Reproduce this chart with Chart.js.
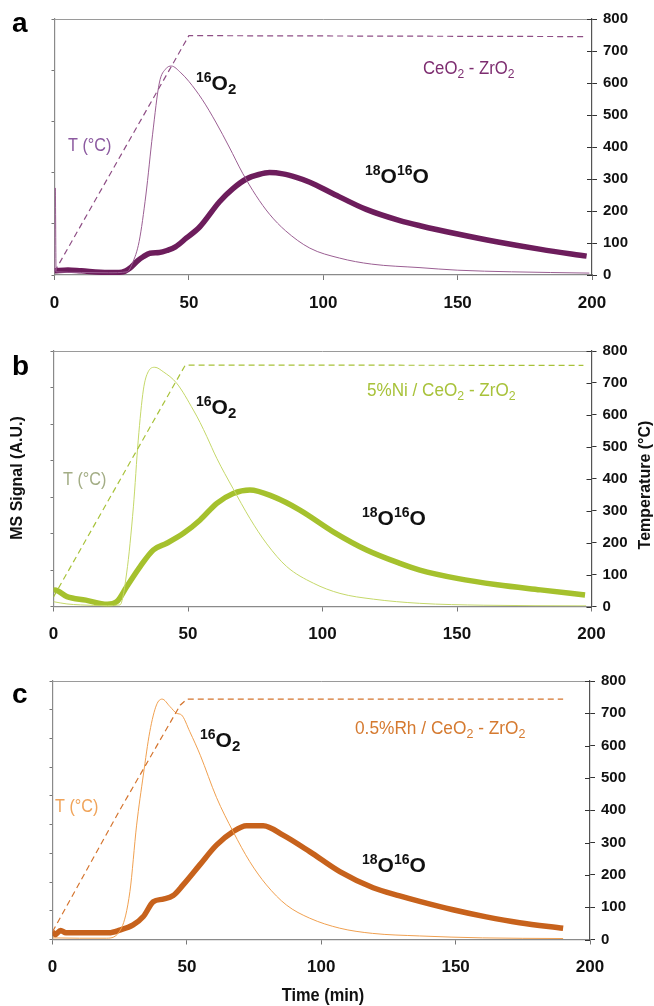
<!DOCTYPE html>
<html>
<head>
<meta charset="utf-8">
<script src="https://cdn.jsdelivr.net/npm/chart.js@4"></script>
<style>
  body { margin:0; background:#fff; }
  #wrap { position:relative; width:654px; height:1006px; }
  canvas { position:absolute; left:0; }
</style>
</head>
<body>
<div id="wrap">
  <canvas id="chartA" width="654" height="325" style="top:0px"></canvas>
  <canvas id="chartB" width="654" height="330" style="top:325px"></canvas>
  <canvas id="chartC" width="654" height="351" style="top:655px"></canvas>
</div>
<script>
// ---- data (time in min, signal in temperature-axis units) ----
// panel a : CeO2 - ZrO2
var aTempTime = [0, 50, 198];
var aTemp     = [10, 748, 745];
var a16Time = [0, 0.3, 0.6, 10, 20, 27, 29, 31.5, 34, 36.5, 39, 41.5, 43.5, 47, 50, 55, 60, 65, 70, 75, 80, 86, 95, 106, 118, 136, 150, 170, 199];
var a16     = [10, 272, 10, 8, 7, 10, 37, 105, 250, 440, 600, 645, 653, 632, 605, 548, 478, 400, 318, 248, 190, 138, 84, 53, 34, 23, 15, 10, 6];
var aMixTime = [0, 5, 10, 20, 25, 28, 31, 33, 35.5, 39, 42, 45, 49, 54, 61.4, 66.4, 71.4, 76, 80, 85, 90, 95, 103.5, 116, 128.5, 136, 150, 165, 181, 198];
var aMix     = [13, 16, 13, 8, 9, 21, 45, 57, 68, 70, 77, 88, 115, 150, 229, 270, 300, 314, 320, 316, 305, 290, 255, 205, 170, 154, 128, 103, 80, 59];

// panel b : 5%Ni / CeO2 - ZrO2
var bTempTime = [0, 49, 197];
var bTemp     = [30, 756, 755];
var b16Time = [0, 5, 10, 20, 24.7, 27.2, 29.7, 31.5, 33.4, 35.2, 37.7, 40.8, 45.8, 52, 54.5, 57, 60.7, 66.7, 73, 79.3, 86.7, 96.6, 106.5, 118.9, 136, 160, 198];
var b16     = [15, 8, 5, 3, 5, 105, 312, 521, 678, 735, 749, 735, 699, 615, 576, 532, 464, 370, 276, 196, 125, 73, 41, 23, 10, 4, 2];
var bMixTime = [0, 0.5, 5, 12, 20, 23.5, 27.2, 32.2, 37.1, 42.1, 48.3, 54.5, 60.7, 66.8, 73, 81.7, 91.6, 104, 116.4, 128.8, 136.2, 150, 165, 181, 197.6];
var bMix     = [45, 52, 31, 20, 7, 15, 62, 125, 177, 198, 229, 271, 323, 354, 365, 344, 302, 234, 177, 135, 114, 88, 68, 52, 36];

// panel c : 0.5%Rh / CeO2 - ZrO2
var cTempTime = [0, 25, 47.5, 50, 190];
var cTemp     = [24, 400, 725, 744, 744];
var c16Time = [0, 10, 20, 25.7, 28.8, 31.3, 33.8, 36.2, 38.7, 40.8, 43.7, 46.2, 48, 51.1, 55, 61, 67.2, 73.4, 79.6, 87, 95.7, 106.9, 119, 136.6, 160, 190];
var c16     = [5, 4, 4, 36, 148, 354, 509, 643, 726, 744, 721, 700, 695, 643, 570, 440, 334, 241, 169, 107, 66, 35, 19, 11, 5, 3];
var cMixTime = [0, 1, 3, 5, 21, 25, 30, 33.8, 37.5, 41.2, 44.9, 48.6, 54.8, 61, 67.2, 72.2, 78.4, 85.8, 95.7, 106.9, 119.3, 129.2, 136.6, 149, 161.4, 173.8, 190];
var cMix     = [24, 15, 28, 21, 21, 29, 45, 71, 117, 125, 136, 169, 231, 292, 334, 352, 352, 323, 272, 210, 160, 135, 118, 92, 70, 52, 35];

var timeTicks = [0, 50, 100, 150, 200];
var tempTicks = [0, 100, 200, 300, 400, 500, 600, 700, 800];

var NARROW = "'Liberation Sans Narrow','Arial Narrow','Liberation Sans',Arial,sans-serif";
var ARIAL = "'Liberation Sans',Arial,sans-serif";

function pts(xs, ys){
    var out = [];
    for(var i=0;i<xs.length;i++){
        out.push({x:xs[i], y:ys[i]});
    }
    return out;
}

// draw "^16O_2" style text: ^ = superscript digits, _ = subscript digits
function richText(ctx, str, x, y, size, weight, family, color, align, sx){
    var parts = [];
    var re = /(\^[0-9]+|_[0-9]+|[^\^_]+)/g, m;
    while((m = re.exec(str)) !== null){
        var t = m[0];
        if(t[0]=='^') parts.push({t:t.slice(1), s:Math.round(size*0.66), dy:-size*0.36});
        else if(t[0]=='_') parts.push({t:t.slice(1), s:Math.round(size*0.7), dy:size*0.2});
        else parts.push({t:t, s:size, dy:0});
    }
    sx = sx || 1;
    ctx.fillStyle = color;
    ctx.textBaseline = 'alphabetic';
    ctx.textAlign = 'left';
    var total = 0;
    parts.forEach(function(p){
        ctx.font = weight+' '+p.s+'px '+family;
        p.w = ctx.measureText(p.t).width;
        total += p.w;
    });
    ctx.save();
    ctx.translate(x, y);
    ctx.scale(sx, 1);
    var cx = 0;
    if(align=='center') cx = -total/2;
    parts.forEach(function(p){
        ctx.font = weight+' '+p.s+'px '+family;
        ctx.fillText(p.t, cx, p.dy);
        cx += p.w;
    });
    ctx.restore();
}

var decor = {
    id:'decor',
    afterDraw: function(chart, args, opts){
        var ctx = chart.ctx, ca = chart.chartArea;
        ctx.save();
        // top frame line
        ctx.strokeStyle = '#9a9a9a';
        ctx.lineWidth = 1;
        ctx.beginPath();
        ctx.moveTo(ca.left, ca.top + 0.5);
        ctx.lineTo(ca.right, ca.top + 0.5);
        ctx.stroke();
        // inner part of right axis ticks
        var y2 = chart.scales.y2;
        ctx.strokeStyle = '#333';
        ctx.beginPath();
        y2.ticks.forEach(function(t){
            var py = Math.round(y2.getPixelForValue(t.value)) + 0.5;
            ctx.moveTo(ca.right - 5, py);
            ctx.lineTo(ca.right, py);
        });
        ctx.stroke();
        (opts.texts || []).forEach(function(tx){
            var y = tx.y - opts.offset;
            if(tx.rot){
                ctx.save();
                ctx.translate(tx.x, y);
                ctx.rotate(tx.rot);
                richText(ctx, tx.s, 0, 0, tx.size, tx.weight || 'normal', tx.family || NARROW, tx.color, 'center', tx.sx);
                ctx.restore();
            } else {
                richText(ctx, tx.s, tx.x, y, tx.size, tx.weight || 'normal', tx.family || NARROW, tx.color, tx.align, tx.sx);
            }
        });
        ctx.restore();
    }
};

function makePanel(canvasId, cfg){
    var datasets = [
        {data:pts(cfg.tempTime, cfg.temp), yAxisID:'y2', borderColor:cfg.dash, borderWidth:1.2, borderDash:[6,4], pointRadius:0, tension:0},
        {data:pts(cfg.o16Time, cfg.o16), yAxisID:'y', borderColor:cfg.thin, borderWidth:1, pointRadius:0, cubicInterpolationMode:'monotone'},
        {data:pts(cfg.mixTime, cfg.mix), yAxisID:'y', borderColor:cfg.thick, borderWidth:5.5, pointRadius:0, cubicInterpolationMode:'monotone'}
    ];
    return new Chart(document.getElementById(canvasId), {
        type:'line',
        data:{datasets:datasets},
        options:{
            responsive:false,
            animation:false,
            devicePixelRatio:1,
            layout:{padding:{top:cfg.chartTop - cfg.canvasTop, left:0, right:0, bottom:0}},
            plugins:{
                legend:{display:false},
                tooltip:{enabled:false},
                decor:{texts:cfg.texts, offset:cfg.canvasTop}
            },
            scales:{
                x:{
                    type:'linear', min:0, max:200,
                    afterBuildTicks:function(s){ s.ticks = timeTicks.map(function(v){return {value:v};}); },
                    afterFit:function(s){ s.height = cfg.canvasTop + cfg.canvasH - cfg.bottom; },
                    grid:{drawOnChartArea:false, tickLength:5, color:'#777'},
                    border:{color:'#8a8a8a', width:1.2},
                    ticks:{font:{family:NARROW, size:17, weight:'bold'}, color:'#111', padding:13, maxRotation:0}
                },
                y:{
                    position:'left', min:0, max:800,
                    afterBuildTicks:function(s){
                        var t = [];
                        for(var i=0;i<=cfg.leftSteps;i++) t.push({value:800*i/cfg.leftSteps});
                        s.ticks = t;
                    },
                    afterFit:function(s){ s.width = cfg.left; },
                    grid:{drawOnChartArea:false, tickLength:3, color:'#777'},
                    border:{color:'#8a8a8a', width:1.2},
                    ticks:{display:false}
                },
                y2:{
                    position:'right', min:0, max:800,
                    afterBuildTicks:function(s){ s.ticks = tempTicks.map(function(v){return {value:v};}); },
                    afterFit:function(s){ s.width = 654 - cfg.right; },
                    grid:{drawOnChartArea:false, tickLength:5, color:'#333'},
                    border:{color:'#555', width:1.2},
                    ticks:{font:{family:NARROW, size:15, weight:'bold'}, color:'#111', padding:6}
                }
            }
        },
        plugins:[decor]
    });
}

makePanel('chartA', {
    canvasTop:0, canvasH:325, chartTop:19, bottom:275, left:54.5, right:592, leftSteps:5,
    tempTime:aTempTime, temp:aTemp, o16Time:a16Time, o16:a16, mixTime:aMixTime, mix:aMix,
    dash:'#8e4e85', thin:'#9b5f93', thick:'#6d1d5c',
    texts:[
        {s:'a', x:12, y:32, size:28, weight:'bold', family:ARIAL, color:'#000'},
        {s:'T (°C)', x:68, y:151, size:18, color:'#8c5aa0', sx:0.9},
        {s:'^16O_2', x:196, y:90, size:21, weight:'bold', family:ARIAL, color:'#111'},
        {s:'^18O^16O', x:365, y:183, size:21, weight:'bold', family:ARIAL, color:'#111'},
        {s:'CeO_2 - ZrO_2', x:423, y:74, size:18, color:'#7d2d70', sx:0.93}
    ]
});

makePanel('chartB', {
    canvasTop:325, canvasH:330, chartTop:351, bottom:606.5, left:53.5, right:591.5, leftSteps:7,
    tempTime:bTempTime, temp:bTemp, o16Time:b16Time, o16:b16, mixTime:bMixTime, mix:bMix,
    dash:'#a8c23a', thin:'#c5d86a', thick:'#a5c12d',
    texts:[
        {s:'b', x:12, y:375, size:28, weight:'bold', family:ARIAL, color:'#000'},
        {s:'T (°C)', x:63, y:485, size:18, color:'#a3ad85', sx:0.9},
        {s:'^16O_2', x:196, y:414, size:21, weight:'bold', family:ARIAL, color:'#111'},
        {s:'^18O^16O', x:362, y:525, size:21, weight:'bold', family:ARIAL, color:'#111'},
        {s:'5%Ni / CeO_2 - ZrO_2', x:367, y:396, size:18, color:'#a8c23a', sx:0.95},
        {s:'MS Signal (A.U.)', x:22, y:478, rot:-Math.PI/2, size:16, weight:'bold', family:ARIAL, color:'#111'},
        {s:'Temperature (°C)', x:650, y:485, rot:-Math.PI/2, size:16, weight:'bold', family:ARIAL, color:'#111'}
    ]
});

makePanel('chartC', {
    canvasTop:655, canvasH:351, chartTop:681, bottom:939.5, left:52.5, right:590, leftSteps:9,
    tempTime:cTempTime, temp:cTemp, o16Time:c16Time, o16:c16, mixTime:cMixTime, mix:cMix,
    dash:'#d4742e', thin:'#f0a050', thick:'#c7621c',
    texts:[
        {s:'c', x:12, y:703, size:28, weight:'bold', family:ARIAL, color:'#000'},
        {s:'T (°C)', x:55, y:812, size:18, color:'#f0a45a', sx:0.9},
        {s:'^16O_2', x:200, y:747, size:21, weight:'bold', family:ARIAL, color:'#111'},
        {s:'^18O^16O', x:362, y:872, size:21, weight:'bold', family:ARIAL, color:'#111'},
        {s:'0.5%Rh / CeO_2 - ZrO_2', x:355, y:734, size:18, color:'#d57a30', sx:0.96},
        {s:'Time (min)', x:323, y:1001, size:18, weight:'bold', color:'#111', align:'center', sx:0.91}
    ]
});
</script>
</body>
</html>
